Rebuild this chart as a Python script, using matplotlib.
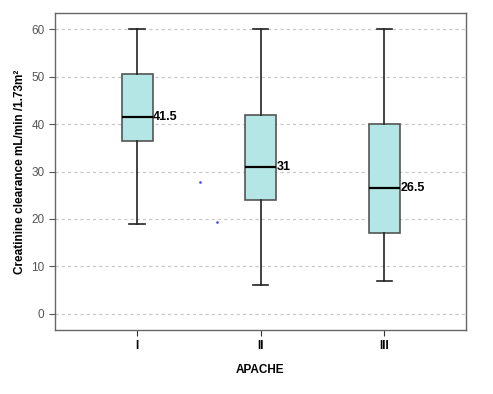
import matplotlib
matplotlib.use("Agg")
import matplotlib.pyplot as plt

plt.rcParams['font.family'] = ['Liberation Sans', 'DejaVu Sans']

groups = ['I', 'II', 'III']
whislo = [19, 6, 7]
q1 = [36.5, 24, 17]
med = [41.5, 31, 26.5]
q3 = [50.5, 42, 40]
whishi = [60, 60, 60]
med_labels = ['41.5', '31', '26.5']
# stray marks in the picture
dot_x = [1.51, 1.65]
dot_y = [27.8, 19.4]

stats = []
for i, g in enumerate(groups):
    stats.append(dict(label=g, whislo=whislo[i], q1=q1[i], med=med[i],
                      q3=q3[i], whishi=whishi[i], fliers=[]))

fig = plt.figure(figsize=(4.93, 3.94), dpi=100)
ax = fig.add_axes([0.1116, 0.1624, 0.8334, 0.8046])

ax.bxp(stats, positions=[1, 2, 3], widths=0.25, patch_artist=True,
       showfliers=False,
       boxprops=dict(facecolor='#b4e6e6', edgecolor='#555555', linewidth=1.2),
       medianprops=dict(color='black', linewidth=1.6),
       whiskerprops=dict(color='#222222', linewidth=1.2),
       capprops=dict(color='#222222', linewidth=1.2))

for i in range(3):
    ax.text(i + 1 + 0.13, med[i], med_labels[i], ha='left', va='center',
            fontsize=9, fontweight='bold')

ax.plot(dot_x, dot_y, 's', color='#4444ff', markersize=0.8, linestyle='none')

ax.set_xlim(0.336, 3.66)
ax.set_ylim(-3.4, 63.4)
ax.set_yticks(range(0, 61, 10))
ax.yaxis.grid(True, linestyle=(0, (2.5, 2.5)), color='#c8c8c8', linewidth=0.9)
ax.set_axisbelow(True)

for s in ax.spines.values():
    s.set_color('#666666')
    s.set_linewidth(1.0)
ax.tick_params(axis='y', colors='#555555', labelsize=8.5, length=4)
ax.tick_params(axis='x', colors='#333333', labelsize=8.5, length=4)
for lbl in ax.get_xticklabels():
    lbl.set_fontweight('bold')
    lbl.set_color('black')

ax.set_ylabel('Creatinine clearance mL/min /1.73m²', fontsize=8.5,
              fontweight='bold')
ax.set_xlabel('APACHE', fontsize=8.5, fontweight='bold', labelpad=8)

fig.savefig('out.png', dpi=100)
